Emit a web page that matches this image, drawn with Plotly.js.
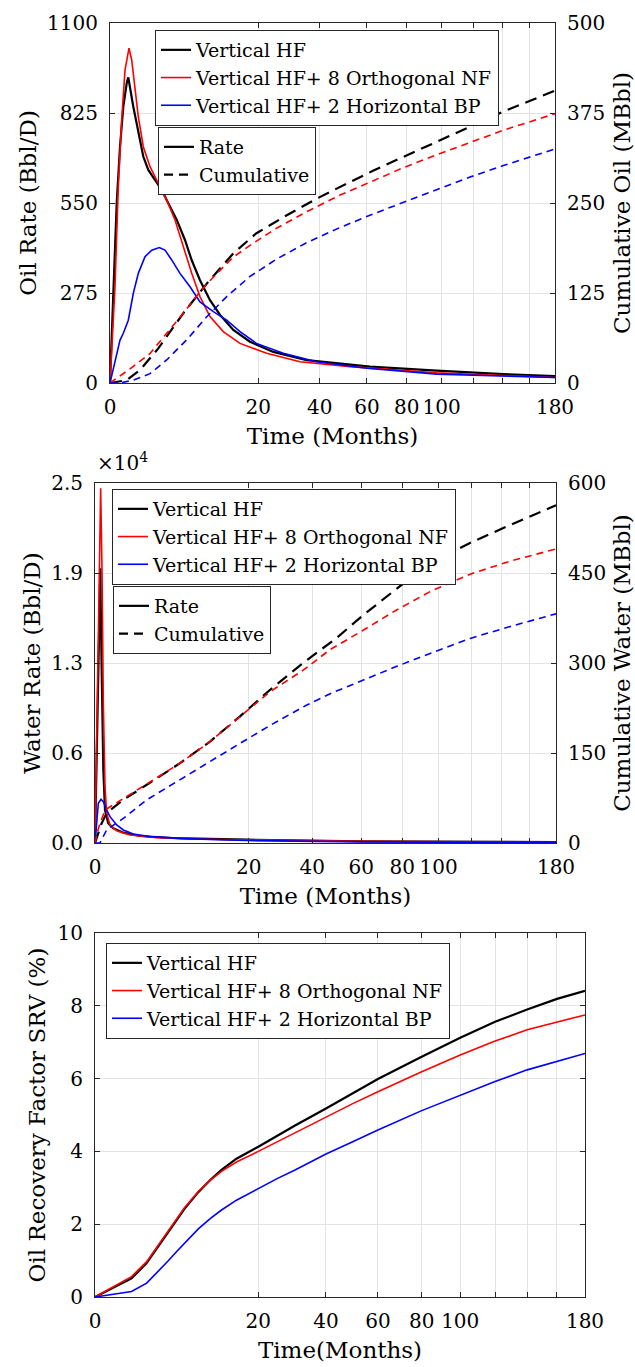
<!DOCTYPE html>
<html>
<head>
<meta charset="utf-8">
<script src="https://cdn.plot.ly/plotly-3.0.1.min.js"></script>
<style>
html,body{margin:0;padding:0;background:#fff;}
#chart{width:635px;height:1367px;}
</style>
</head>
<body>
<div id="chart"></div>
<script>
// ---------- Tick labels (time axis, months; axis is drawn on a square-root scale) ----------
const timeTicks = [0, 20, 40, 60, 80, 100, 180];
const timeTickLabels = ['0', '20', '40', '60', '80', '100', '180'];
const timeMinorTicks = [120, 140, 160];
const seriesNames = ['Vertical HF', 'Vertical HF+ 8 Orthogonal NF', 'Vertical HF+ 2 Horizontal BP'];

// ---------- Panel 1: oil rate (Bbl/D) ----------
const tOilRateBlack = [0,0.0099,0.0408,0.0909,0.1608,0.2535,0.304,0.494,0.728,1.008,1.333,1.841,2.43,3.09,4.04,5.11,6.07,7.36,9.09,11.0,13.82,17.81,24.24,35.17,52.35,61.4,97,140.6,180];
const oilRateBlack = [0,294,549,722,844,916,934,844,763,692,651,620,590,549,499,437,375,314,253,208,162,126,95,70,55,50,38,27,21];
const tOilRateRed = [0,0.0227,0.0626,0.124,0.2045,0.328,0.428,0.568,0.728,1.008,1.454,2.12,2.92,3.84,4.89,6.07,7.36,9.09,11.66,15.36,22.3,32.8,52.35,97,180];
const oilRateRed = [0,294,600,804,956,1023,987,905,814,722,661,610,559,498,416,335,264,203,157,121,91,65,50,31,17];
const tOilRateBlue = [0,0.0227,0.091,0.161,0.304,0.494,0.728,1.113,1.58,2.21,2.75,3.46,4.45,5.82,7.36,9.71,12.38,15.36,19.5,27.3,38.8,60,97,180];
const oilRateBlue = [0,70,131,152,192,274,335,386,406,414,406,376,335,294,248,218,192,157,121,91,65,45,27,17];

// Cumulative oil (MBbl)
const tCumOilBlack = [0,0.254,0.818,2.12,4.89,8.51,13.82,19.5,28.4,38.8,51.0,63.1,78.2,97,117.8,140.6,180];
const cumOilBlack = [0,4,18,48,97,138,180,208,233,256,277,295,314,335,356,377,406];
const tCumOilRed = [0,0.494,1.454,2.92,4.89,7.36,10.35,13.82,18.6,25.2,35.2,48.1,63.1,78.2,97,117.8,140.6,180];
const cumOilRed = [0,23,41,69,97,127,152,175,194,215,238,261,281,299,317,334,351,374];
const tCumOilBlue = [0,0.091,0.494,1.454,2.92,5.35,8.51,12.38,17.81,25.2,35.2,48.1,63.1,78.2,97,117.8,140.6,180];
const cumOilBlue = [0,0,4,13,32,60,92,120,148,172,195,216,235,251,269,286,302,325];

// ---------- Panel 2: water rate (Bbl/D) ----------
const tWaterRateBlack = [0,0.0114,0.0241,0.0377,0.0588,0.0847,0.150,0.285,0.68,1.714,5.19,19.5,60,180];
const waterRateBlack = [0,12014,19075,12014,5069,2292,1366,1019,718,486,347,230,120,60];
const tWaterRateRed = [0,0.0159,0.0272,0.0415,0.0588,0.0847,0.1153,0.1906,0.398,1.037,3.22,7.64,19.5,60,180];
const waterRateRed = [0,18958,24630,18958,9700,3912,2060,1250,856,556,370,278,210,110,50];
const tWaterRateBlue = [0,0.0094,0.0305,0.0588,0.1153,0.1906,0.398,0.68,1.245,2.56,6.6,19.5,60,180];
const waterRateBlue = [0,2757,3035,2870,2292,1829,1250,903,625,440,301,174,80,30];

// Cumulative water (MBbl)
const tCumWaterBlack = [0,0.0377,0.1153,0.68,2.27,6.12,11.2,17.8,25.9,36.7,49.5,61.0,73.7,85.6,98.9,119.1,141.2,180];
const cumWaterBlack = [0,33,50,72,97,133,169,211,255,300,342,380,415,445,472,500,525,563];
const tCumWaterRed = [0,0.0094,0.0847,0.68,2.27,6.12,11.2,17.8,25.9,36.7,46.7,61.1,76.8,95.1,119.2,146.2,180];
const cumWaterRed = [0,24,55,74,99,133,169,211,252,288,322,355,388,419,448,470,490];
const tCumWaterBlue = [0,0.021,0.1153,0.68,2.27,5.19,10.56,17.8,26.9,38.0,47.5,61.1,76.8,95.1,119.2,146.2,180];
const cumWaterBlue = [0,0,22,41,72,99,133,166,199,230,250,272,294,316,341,361,382];

// ---------- Panel 3: oil recovery factor SRV (%) ----------
const tRecovery = [0,1,2,3,4,5,6,8,10,12,15,20,25,30,40,50,60,80,100,120,140,160,180];
const recoveryBlack = [0,0.51,0.93,1.38,1.78,2.12,2.42,2.88,3.22,3.49,3.80,4.13,4.44,4.71,5.18,5.60,5.99,6.60,7.12,7.56,7.90,8.19,8.41];
const recoveryRed = [0,0.56,0.97,1.43,1.81,2.15,2.45,2.90,3.21,3.45,3.71,4.00,4.27,4.50,4.93,5.32,5.64,6.19,6.65,7.03,7.34,7.55,7.75];
const recoveryBlue = [0,0.15,0.38,0.70,0.99,1.25,1.47,1.87,2.16,2.39,2.66,2.99,3.26,3.49,3.93,4.27,4.59,5.12,5.55,5.92,6.24,6.48,6.69];

// ---------- Axis tick values ----------
const oilRateTicks = [0, 275, 550, 825, 1100];
const cumOilTicks = [0, 125, 250, 375, 500];
const waterRateTicks = [0, 6250, 12500, 18750, 25000];
const waterRateTickLabels = ['0.0', '0.6', '1.3', '1.9', '2.5'];
const cumWaterTicks = [0, 150, 300, 450, 600];
const recoveryTicks = [0, 2, 4, 6, 8, 10];

// ---------- Styling ----------
const W = 635, H = 1367;
const FONT = "DejaVu Serif";
const AX = '#262626';
const GRID = '#e3e3e3';
const colors = ['#000000', '#ff0000', '#0000ff'];
const widths = [2.2, 1.6, 1.6];
const dashes = ['12px,7px', '7px,5px', '7px,5px'];
const sq = arr => arr.map(v => Math.sqrt(v));

function px2x(a, b) { return [a / W, b / W]; }
function py2y(top, bottom) { return [1 - bottom / H, 1 - top / H]; }

function line(t, y, i, xa, ya, opts) {
  return Object.assign({
    type: 'scatter', mode: 'lines', x: sq(t), y: y, xaxis: xa, yaxis: ya,
    line: {color: colors[i], width: widths[i]}, hoverinfo: 'skip', showlegend: false
  }, opts || {});
}

const traces = [];
// panel 1
const rateT1 = [tOilRateBlack, tOilRateRed, tOilRateBlue];
const rateV1 = [oilRateBlack, oilRateRed, oilRateBlue];
const cumT1 = [tCumOilBlack, tCumOilRed, tCumOilBlue];
const cumV1 = [cumOilBlack, cumOilRed, cumOilBlue];
for (let i = 0; i < 3; i++) {
  traces.push(line(cumT1[i], cumV1[i], i, 'x', 'y4', {line: {color: colors[i], width: widths[i], dash: dashes[i]}}));
}
for (let i = 0; i < 3; i++) {
  traces.push(line(rateT1[i], rateV1[i], i, 'x', 'y', {name: seriesNames[i], showlegend: true, legend: 'legend'}));
}
traces.push({type: 'scatter', mode: 'lines', x: [null], y: [null], xaxis: 'x', yaxis: 'y', name: 'Rate', legend: 'legend2', showlegend: true, line: {color: '#000', width: 2.2}});
traces.push({type: 'scatter', mode: 'lines', x: [null], y: [null], xaxis: 'x', yaxis: 'y', name: 'Cumulative', legend: 'legend2', showlegend: true, line: {color: '#000', width: 2.2, dash: '9px,6px'}});

// panel 2
const rateT2 = [tWaterRateBlack, tWaterRateRed, tWaterRateBlue];
const rateV2 = [waterRateBlack, waterRateRed, waterRateBlue];
const cumT2 = [tCumWaterBlack, tCumWaterRed, tCumWaterBlue];
const cumV2 = [cumWaterBlack, cumWaterRed, cumWaterBlue];
for (let i = 0; i < 3; i++) {
  traces.push(line(cumT2[i], cumV2[i], i, 'x2', 'y5', {line: {color: colors[i], width: widths[i], dash: dashes[i]}}));
}
for (let i = 0; i < 3; i++) {
  traces.push(line(rateT2[i], rateV2[i], i, 'x2', 'y2', {name: seriesNames[i], showlegend: true, legend: 'legend3'}));
}
traces.push({type: 'scatter', mode: 'lines', x: [null], y: [null], xaxis: 'x2', yaxis: 'y2', name: 'Rate', legend: 'legend4', showlegend: true, line: {color: '#000', width: 2.2}});
traces.push({type: 'scatter', mode: 'lines', x: [null], y: [null], xaxis: 'x2', yaxis: 'y2', name: 'Cumulative', legend: 'legend4', showlegend: true, line: {color: '#000', width: 2.2, dash: '9px,6px'}});

// panel 3
const recV = [recoveryBlack, recoveryRed, recoveryBlue];
for (let i = 0; i < 3; i++) {
  traces.push(line(tRecovery, recV[i], i, 'x3', 'y3', {name: seriesNames[i], showlegend: true, legend: 'legend5'}));
}

const tickFont = {family: FONT, size: 20, color: '#000'};
const titleFont = {family: FONT, size: 23, color: '#000'};

function xAxis(domain, anchor, title) {
  return {
    domain: domain, anchor: anchor, range: [0, Math.sqrt(180)],
    tickmode: 'array', tickvals: sq(timeTicks), ticktext: timeTickLabels,
    ticks: 'inside', ticklen: 5, tickcolor: AX, tickwidth: 1,
    minor: {tickmode: 'array', tickvals: sq(timeMinorTicks), ticks: 'inside', ticklen: 5, tickcolor: AX, tickwidth: 1, showgrid: true, gridcolor: GRID, gridwidth: 1},
    showline: true, linecolor: AX, linewidth: 1, mirror: 'ticks',
    showgrid: true, gridcolor: GRID, gridwidth: 1, zeroline: false,
    tickfont: tickFont, ticklabelstandoff: 6,
    title: {text: title, font: titleFont, standoff: 9}
  };
}
function yAxis(domain, anchor, range, tickvals, ticktext, title, standoff, opts) {
  return Object.assign({
    domain: domain, anchor: anchor, range: range,
    tickmode: 'array', tickvals: tickvals, ticktext: ticktext,
    ticks: 'inside', ticklen: 5, tickcolor: AX, tickwidth: 1,
    showline: true, linecolor: AX, linewidth: 1,
    showgrid: true, gridcolor: GRID, gridwidth: 1, zeroline: false,
    tickfont: tickFont, ticklabelstandoff: 7,
    title: {text: title, font: titleFont, standoff: standoff}
  }, opts || {});
}

function legendBox(xpx, ypx) {
  return {
    x: xpx / W, y: 1 - ypx / H, xref: 'paper', yref: 'paper', xanchor: 'left', yanchor: 'top',
    bgcolor: '#ffffff', bordercolor: AX, borderwidth: 1,
    font: {family: FONT, size: 19, color: '#000'}, tracegroupgap: 0, itemwidth: 30,
    traceorder: 'normal'
  };
}

const layout = {
  width: W, height: H, margin: {l: 0, r: 0, t: 0, b: 0},
  paper_bgcolor: '#fff', plot_bgcolor: '#fff', showlegend: true,
  font: {family: FONT, color: '#000'},
  xaxis: xAxis(px2x(110, 555), 'y', 'Time (Months)'),
  yaxis: yAxis(py2y(23, 383), 'x', [0, 1100], oilRateTicks, oilRateTicks.map(String), 'Oil Rate (Bbl/D)', 4),
  yaxis4: yAxis(py2y(23, 383), 'x', [0, 500], cumOilTicks, cumOilTicks.map(String), 'Cumulative Oil (MBbl)', 10, {overlaying: 'y', side: 'right', showgrid: false}),
  xaxis2: xAxis(px2x(95, 556), 'y2', 'Time (Months)'),
  yaxis2: yAxis(py2y(483, 843), 'x2', [0, 25000], waterRateTicks, waterRateTickLabels, 'Water Rate (Bbl/D)', 4),
  yaxis5: yAxis(py2y(483, 843), 'x2', [0, 600], cumWaterTicks, cumWaterTicks.map(String), 'Cumulative Water (MBbl)', 10, {overlaying: 'y2', side: 'right', showgrid: false}),
  xaxis3: xAxis(px2x(95, 585), 'y3', 'Time(Months)'),
  yaxis3: yAxis(py2y(933, 1297), 'x3', [0, 10], recoveryTicks, recoveryTicks.map(String), 'Oil Recovery Factor SRV (%)', 5, {mirror: 'ticks'}),
  legend: legendBox(155, 30),
  legend2: legendBox(158, 127),
  legend3: legendBox(112, 489),
  legend4: legendBox(113, 586),
  legend5: legendBox(106, 943),
  annotations: [{
    xref: 'paper', yref: 'paper', x: 95 / W, y: 1 - 477 / H, xanchor: 'left', yanchor: 'bottom',
    text: '×10<sup>4</sup>', showarrow: false, font: {family: FONT, size: 20, color: '#000'}
  }]
};

Plotly.newPlot('chart', traces, layout, {staticPlot: true, displayModeBar: false});
</script>
</body>
</html>
